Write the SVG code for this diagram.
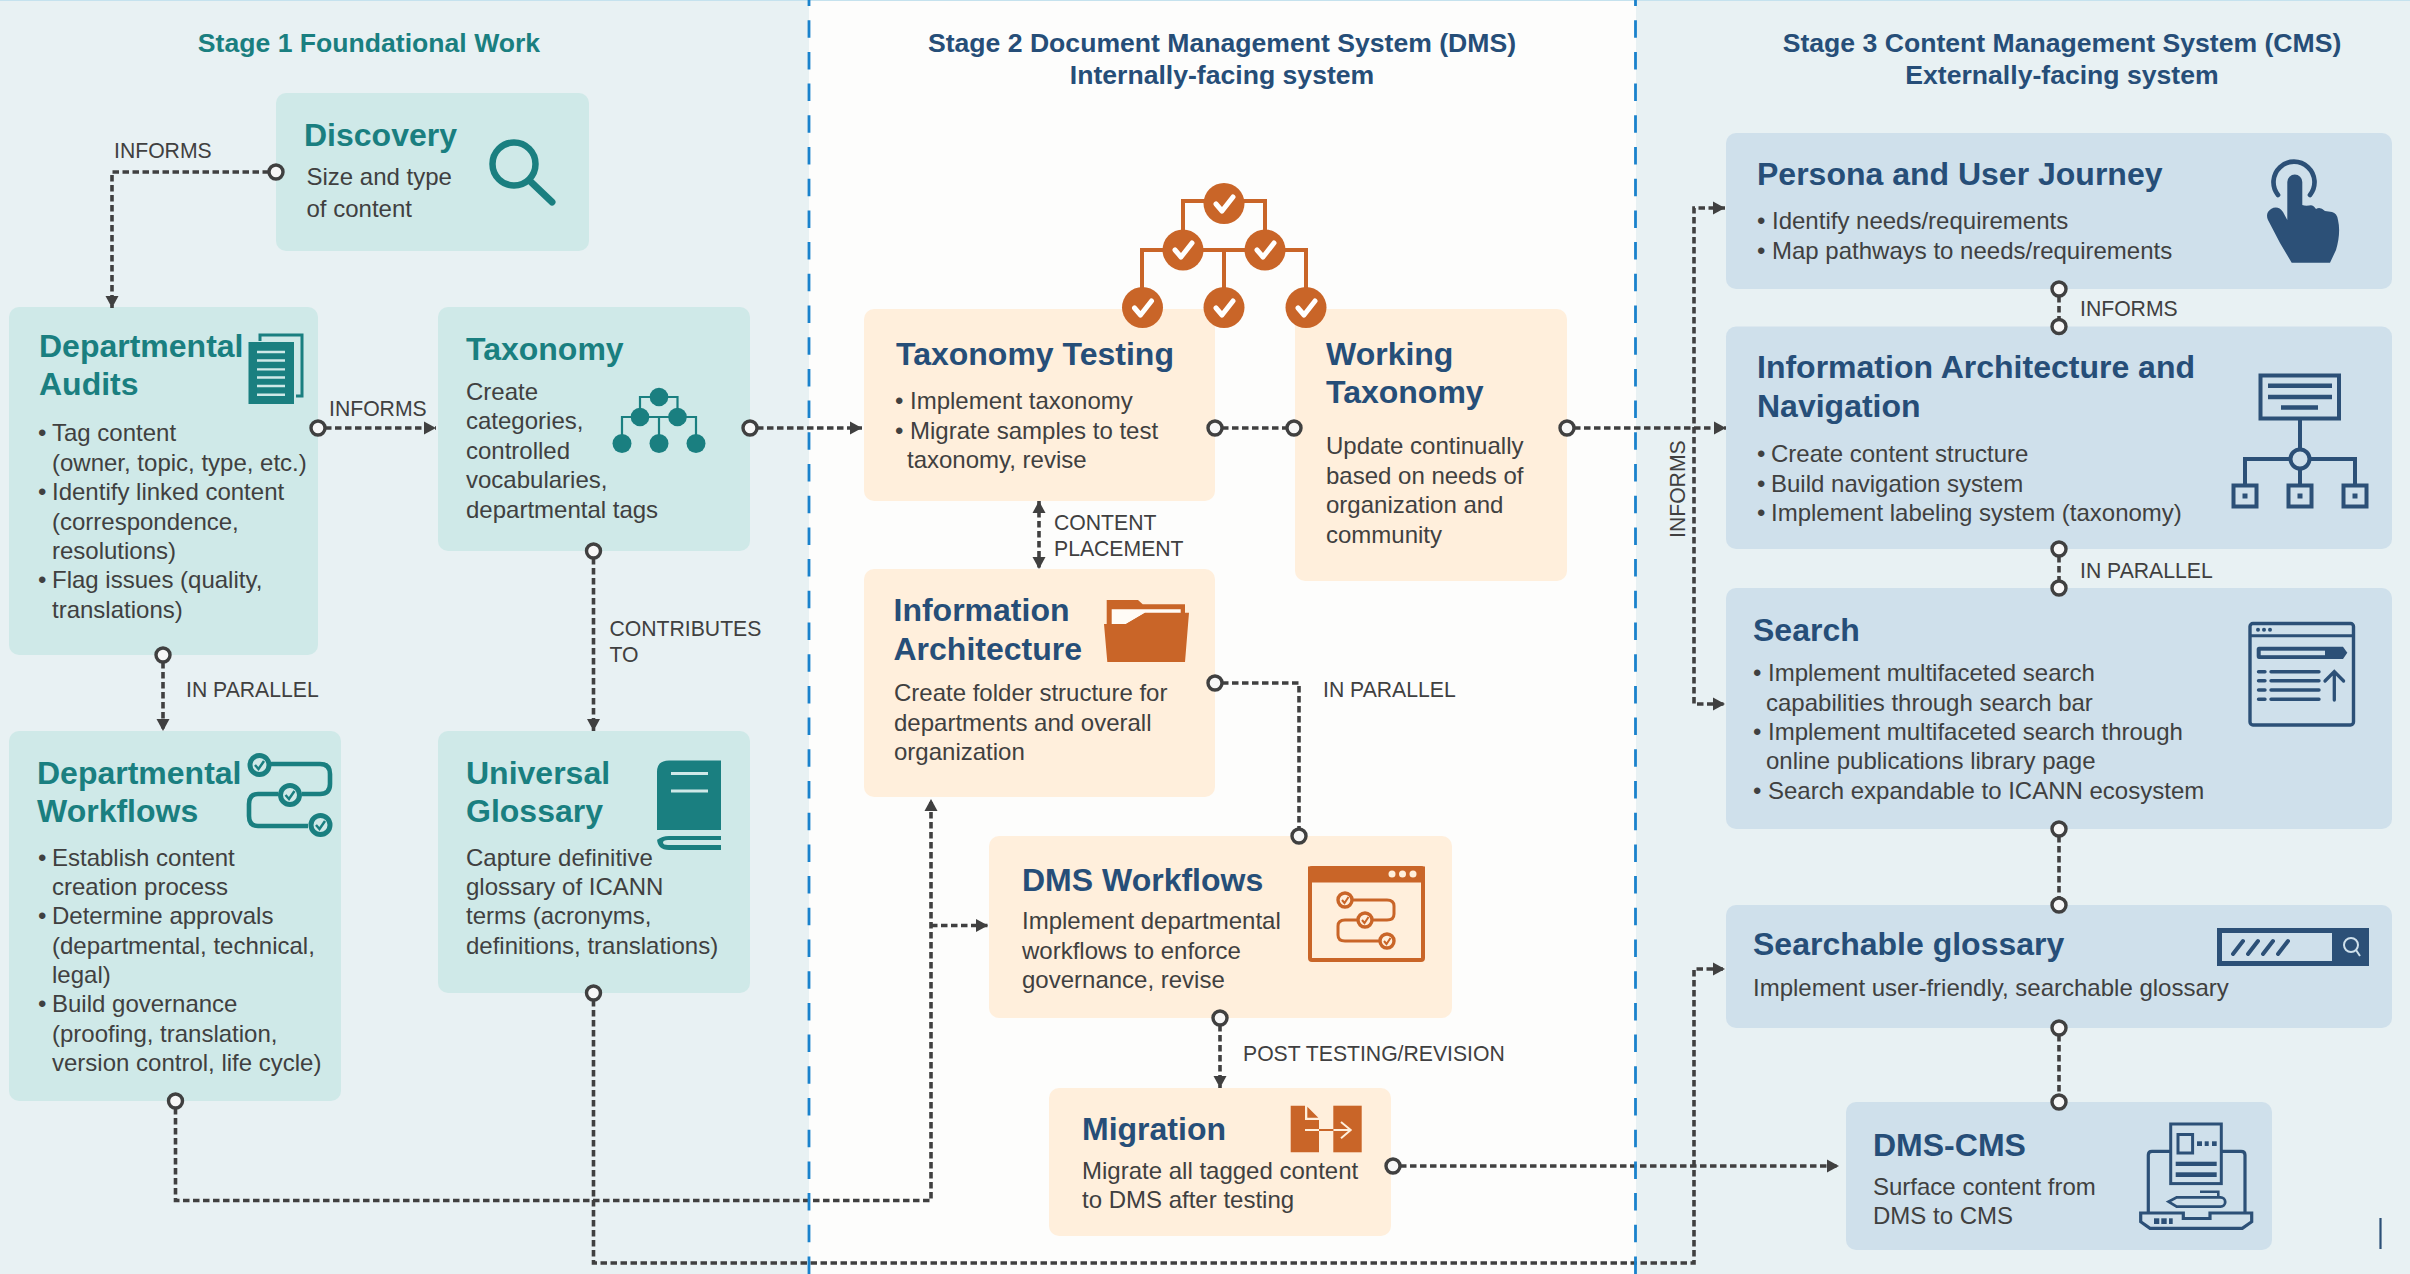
<svg xmlns="http://www.w3.org/2000/svg" width="2410" height="1274" viewBox="0 0 2410 1274">
<style>
text{font-family:"Liberation Sans",Arial,sans-serif}
.b{font-size:24px;fill:#404040}
.l{font-size:21.2px;fill:#404040}
.s{font-size:26.6px;font-weight:bold;text-anchor:middle}
.h{font-size:32px;font-weight:bold}
.ht{fill:#1a7f80}.hb{fill:#264e78}
.tb{fill:#cfe9e8}.ob{fill:#ffefdc}.bb{fill:#cfe0eb}
.c{fill:none;stroke:#404040;stroke-width:3.6;stroke-dasharray:6.500 3.500}
.p{fill:#f7f7f7;stroke:#404040;stroke-width:3.4}
.sep{stroke:#1a82cc;stroke-width:2.800;stroke-dasharray:17.500 14.200;stroke-dashoffset:11.500}
.tf{fill:#1a7f80}.ts{fill:none;stroke:#1a7f80}
.of{fill:#c96528}.os{fill:none;stroke:#c96528}
.nf{fill:#2c5077}.ns{fill:none;stroke:#2c5077}
.ck{fill:none;stroke:#fff;stroke-width:5;stroke-linecap:round;stroke-linejoin:round}
</style>
<defs>
<marker id="a" markerUnits="userSpaceOnUse" markerWidth="14" markerHeight="14" refX="13" refY="7" orient="auto-start-reverse"><path d="M1,0.500L13,7L1,13.500Z" fill="#404040"/></marker>
</defs>
<g id="background">
<rect width="2410" height="1274" fill="#e8f1f3"/>
<rect x="809" width="827" height="1274" fill="#fdfdfc"/>
<rect width="2410" height="1" fill="#c5e2ee"/>
</g>
<g id="stage-titles">
<text class="s ht" x="369" y="52">Stage 1 Foundational Work</text>
<text class="s hb" x="1222" y="52">Stage 2 Document Management System (DMS)</text>
<text class="s hb" x="1222" y="84">Internally-facing system</text>
<text class="s hb" x="2062" y="52">Stage 3 Content Management System (CMS)</text>
<text class="s hb" x="2062" y="84">Externally-facing system</text>
</g>

<g id="discovery"><rect class="tb" x="276" y="93" width="313" height="158" rx="10"/>
<text class="h ht" x="304" y="146">Discovery</text>
<text class="b" x="306.500" y="185">Size and type</text><text class="b" x="306.500" y="217">of content</text>
<circle class="ts" cx="514" cy="164" r="21.500" stroke-width="6.500"/><path class="ts" d="M531,182L552,202" stroke-width="7" stroke-linecap="round"/></g>

<g id="departmental-audits"><rect class="tb" x="9" y="307" width="309" height="348" rx="10"/>
<text class="h ht" x="39" y="357">Departmental</text><text class="h ht" x="39" y="395">Audits</text>
<path class="ts" stroke-width="3" d="M260,341V335H302V396H296"/><rect class="tf" x="248.500" y="342" width="45.500" height="62"/>
<path stroke="#cfe9e8" stroke-width="2.400" d="M257,352H285M257,360.500H285M257,369.400H285M257,377.500H285M257,386H285M257,394.700H285"/>
<text class="b" y="441"><tspan x="38">•</tspan><tspan x="52">Tag content</tspan></text>
<text class="b" x="52" y="470.500">(owner, topic, type, etc.)</text>
<text class="b" y="500"><tspan x="38">•</tspan><tspan x="52">Identify linked content</tspan></text>
<text class="b" x="52" y="529.500">(correspondence,</text>
<text class="b" x="52" y="559">resolutions)</text>
<text class="b" y="588"><tspan x="38">•</tspan><tspan x="52">Flag issues (quality,</tspan></text>
<text class="b" x="52" y="617.500">translations)</text></g>

<g id="taxonomy"><rect class="tb" x="438" y="307" width="312" height="244" rx="10"/>
<text class="h ht" x="466" y="360">Taxonomy</text>
<text class="b" x="466" y="400">Create</text><text class="b" x="466" y="429">categories,</text><text class="b" x="466" y="459">controlled</text><text class="b" x="466" y="488">vocabularies,</text><text class="b" x="466" y="517.500">departmental tags</text>
<path class="ts" stroke-width="2.200" d="M640,417V397H677.500V417M622,443V417H696V443M659,417V443"/>
<circle class="tf" cx="659" cy="397" r="9.300"/><circle class="tf" cx="640" cy="417" r="9.300"/><circle class="tf" cx="677.500" cy="417" r="9.300"/><circle class="tf" cx="622" cy="443.500" r="9.500"/><circle class="tf" cx="659" cy="443.500" r="9.500"/><circle class="tf" cx="696" cy="443.500" r="9.500"/></g>

<g id="departmental-workflows"><rect class="tb" x="9" y="731" width="332" height="370" rx="10"/>
<text class="h ht" x="37" y="784">Departmental</text><text class="h ht" x="37" y="821.500">Workflows</text>
<path class="ts" stroke-width="4.600" d="M270,764H320Q330,764 330,774V784Q330,794 320,794H302M278,794H258Q249,794 249,804V816Q249,826 258,826H308"/>
<g fill="#cfe9e8" stroke="#1a7f80" stroke-width="5"><circle cx="259.500" cy="765" r="9.500"/><circle cx="290" cy="795" r="9.500"/><circle cx="320.500" cy="825" r="9.500"/></g>
<path class="ts" stroke-width="2.500" d="M255,765L258.500,769L264,761M285.500,795L289,799L294.500,791M316,825L319.500,829L325,821"/>
<text class="b" y="865.500"><tspan x="38">•</tspan><tspan x="52">Establish content</tspan></text>
<text class="b" x="52" y="895">creation process</text>
<text class="b" y="924"><tspan x="38">•</tspan><tspan x="52">Determine approvals</tspan></text>
<text class="b" x="52" y="953.500">(departmental, technical,</text>
<text class="b" x="52" y="983">legal)</text>
<text class="b" y="1012"><tspan x="38">•</tspan><tspan x="52">Build governance</tspan></text>
<text class="b" x="52" y="1041.500">(proofing, translation,</text>
<text class="b" x="52" y="1071">version control, life cycle)</text></g>

<g id="universal-glossary"><rect class="tb" x="438" y="731" width="312" height="262" rx="10"/>
<text class="h ht" x="466" y="784">Universal</text><text class="h ht" x="466" y="821.500">Glossary</text>
<path class="tf" d="M721,760.500H669Q657,760.500 657,772V838Q657,850 669,850H721V845H668Q663,845 663,842.500Q663,840 668,840H721V836H669Q662,836 657,840V830H721Z"/>
<path d="M671,773.500H708M671,791H708" stroke="#cfe9e8" stroke-width="3"/>
<text class="b" x="466" y="865.500">Capture definitive</text><text class="b" x="466" y="895">glossary of ICANN</text><text class="b" x="466" y="924">terms (acronyms,</text><text class="b" x="466" y="953.500">definitions, translations)</text></g>

<g id="taxonomy-testing"><rect class="ob" x="864" y="309" width="351" height="192" rx="10"/>
<text class="h hb" x="896" y="365">Taxonomy Testing</text>
<text class="b" y="409"><tspan x="895">•</tspan><tspan x="910">Implement taxonomy</tspan></text>
<text class="b" y="439"><tspan x="895">•</tspan><tspan x="910">Migrate samples to test</tspan></text>
<text class="b" x="907" y="468">taxonomy, revise</text></g>

<g id="working-taxonomy"><rect class="ob" x="1295" y="309" width="272" height="272" rx="10"/>
<text class="h hb" x="1326" y="365">Working</text><text class="h hb" x="1326" y="403">Taxonomy</text>
<text class="b" x="1326" y="454">Update continually</text><text class="b" x="1326" y="484">based on needs of</text><text class="b" x="1326" y="513">organization and</text><text class="b" x="1326" y="543">community</text></g>

<g id="taxonomy-tree-icon">
<path class="os" stroke-width="4" d="M1183,250V201H1265V250M1142,307V250H1306V307M1224,250V307"/>
<g class="of"><circle cx="1224" cy="203.500" r="20.500"/><circle cx="1183" cy="250" r="20.500"/><circle cx="1265" cy="250" r="20.500"/><circle cx="1142.500" cy="307.500" r="20.500"/><circle cx="1224" cy="307.500" r="20.500"/><circle cx="1306" cy="307.500" r="20.500"/></g>
<path class="ck" d="M1216,204L1222,211L1233,197M1175,250L1181,257L1192,243M1257,250L1263,257L1274,243M1134.500,308L1140.500,315L1151.500,301M1216,308L1222,315L1233,301M1298,308L1304,315L1315,301"/></g>

<g id="information-architecture"><rect class="ob" x="864" y="569" width="351" height="228" rx="10"/>
<text class="h hb" x="893.500" y="621">Information</text><text class="h hb" x="893.500" y="660">Architecture</text>
<path class="of" d="M1106.700,600H1138L1142.700,604.300H1185V630H1106.700Z"/>
<path fill="#fffbf6" d="M1111.700,609.300H1180.700V613H1145L1126,624H1111.700Z"/>
<path class="of" d="M1104,624H1126L1145,612.700H1189L1185,662H1107.300Z"/>
<text class="b" x="894" y="701">Create folder structure for</text><text class="b" x="894" y="730.500">departments and overall</text><text class="b" x="894" y="760">organization</text></g>

<g id="dms-workflows"><rect class="ob" x="989" y="836" width="463" height="182" rx="10"/>
<text class="h hb" x="1022" y="891">DMS Workflows</text>
<text class="b" x="1022" y="929">Implement departmental</text><text class="b" x="1022" y="959">workflows to enforce</text><text class="b" x="1022" y="988">governance, revise</text>
<rect class="os" x="1310" y="868" width="113" height="92" rx="2" stroke-width="4"/><rect class="of" x="1308" y="866.500" width="117" height="16"/>
<g fill="#ffefdc"><circle cx="1392" cy="874" r="3.500"/><circle cx="1402.500" cy="874" r="3.500"/><circle cx="1413" cy="874" r="3.500"/></g>
<path class="os" stroke-width="3" d="M1353,900H1387Q1394,900 1394,906V914Q1394,920 1387,920H1373M1357,920H1345Q1338,920 1338,926V935Q1338,941 1345,941H1379"/>
<g fill="#ffefdc" stroke="#c96528" stroke-width="3.400"><circle cx="1345" cy="900" r="7"/><circle cx="1365" cy="920" r="7"/><circle cx="1387" cy="941" r="7"/></g>
<path class="os" stroke-width="2" d="M1342,900L1344.500,903L1348.500,897M1362,920L1364.500,923L1368.500,917M1384,941L1386.500,944L1390.500,938"/></g>

<g id="migration"><rect class="ob" x="1049" y="1088" width="342" height="148" rx="10"/>
<text class="h hb" x="1082" y="1140">Migration</text>
<text class="b" x="1082" y="1179">Migrate all tagged content</text><text class="b" x="1082" y="1208">to DMS after testing</text>
<path class="of" d="M1290.700,1105.700H1305V1120H1319V1152.300H1290.700Z"/><path class="of" d="M1307.300,1106.700L1318.300,1117.700H1307.300Z"/><rect class="of" x="1333.300" y="1105.700" width="28.400" height="46.600"/>
<path fill="none" stroke="#ffefdc" stroke-width="2" d="M1305,1130H1319M1333.300,1130H1350.700M1341,1122L1350.700,1130L1341,1138.300"/>
<path fill="none" stroke="#c96528" stroke-width="2" d="M1319,1130H1333.300"/></g>

<g id="persona"><rect class="bb" x="1726" y="133" width="666" height="156" rx="10"/>
<text class="h hb" x="1757" y="185">Persona and User Journey</text>
<text class="b" y="229"><tspan x="1757">•</tspan><tspan x="1772">Identify needs/requirements</tspan></text>
<text class="b" y="259"><tspan x="1757">•</tspan><tspan x="1772">Map pathways to needs/requirements</tspan></text>
<path class="ns" stroke-width="4.700" stroke-linecap="round" d="M2278,195A20.500,20.500 0 1 1 2310,195"/>
<path class="nf" d="M2287.300,182A7.500,7.500 0 0 1 2302.300,182V205Q2305,206 2309,205.500Q2313,204 2316,209Q2320,206 2325,211L2332,212Q2337,213 2338,220Q2341,233 2336,250L2330,262.700H2291.700L2280,243L2268,220Q2265,213 2271,209Q2278,205 2283,212L2287.300,220Z"/></g>

<g id="ia-navigation"><rect class="bb" x="1726" y="326.500" width="666" height="222.500" rx="10"/>
<text class="h hb" x="1757" y="378">Information Architecture and</text><text class="h hb" x="1757" y="417">Navigation</text>
<text class="b" y="462"><tspan x="1757">•</tspan><tspan x="1771">Create content structure</tspan></text>
<text class="b" y="492"><tspan x="1757">•</tspan><tspan x="1771">Build navigation system</tspan></text>
<text class="b" y="521"><tspan x="1757">•</tspan><tspan x="1771">Implement labeling system (taxonomy)</tspan></text>
<rect class="ns" x="2260.500" y="375.500" width="78.500" height="43" stroke-width="4"/>
<path class="ns" stroke-width="4.500" d="M2268,385.700H2332M2268,397H2332M2281,407.500H2318"/>
<path class="ns" stroke-width="4" d="M2300,420V449M2300,469V484M2290,459H2245V484M2310,459H2355V484"/>
<circle class="ns" cx="2300" cy="459" r="9.500" stroke-width="4"/>
<g class="ns" stroke-width="4"><rect x="2233.500" y="485.500" width="23" height="21"/><rect x="2288.500" y="485.500" width="23" height="21"/><rect x="2343.500" y="485.500" width="23" height="21"/></g>
<g class="nf"><rect x="2242.500" y="493.500" width="5" height="5"/><rect x="2297.500" y="493.500" width="5" height="5"/><rect x="2352.500" y="493.500" width="5" height="5"/></g></g>

<g id="search"><rect class="bb" x="1726" y="588" width="666" height="241" rx="10"/>
<text class="h hb" x="1753" y="641">Search</text>
<text class="b" y="681"><tspan x="1753">•</tspan><tspan x="1768">Implement multifaceted search</tspan></text>
<text class="b" x="1766" y="711">capabilities through search bar</text>
<text class="b" y="740"><tspan x="1753">•</tspan><tspan x="1768">Implement multifaceted search through</tspan></text>
<text class="b" x="1766" y="769">online publications library page</text>
<text class="b" y="799"><tspan x="1753">•</tspan><tspan x="1768">Search expandable to ICANN ecosystem</tspan></text>
<rect class="ns" x="2250" y="623.500" width="103.500" height="101.500" rx="3" stroke-width="3.400"/>
<path class="ns" stroke-width="3" d="M2250,635.700H2354"/>
<g class="nf"><circle cx="2258" cy="629.700" r="2"/><circle cx="2264" cy="629.700" r="2"/><circle cx="2270" cy="629.700" r="2"/></g>
<path class="nf" d="M2259,646.700H2343L2347.300,652.800L2343,659H2259Q2256.700,659 2256.700,656V649.500Q2256.700,646.700 2259,646.700Z"/><rect x="2260.700" y="650.700" width="64.300" height="4.500" fill="#cfe0eb"/>
<path class="ns" stroke-width="3.400" stroke-linecap="round" d="M2258.500,671.700H2265M2271,671.700H2319M2258.500,680.700H2265M2271,680.700H2319M2258.500,690H2265M2271,690H2319M2258.500,699.300H2265M2271,699.300H2319"/>
<path class="ns" stroke-width="3.300" stroke-linecap="round" d="M2334.300,700V672M2325,681L2334.300,671.500L2343.600,681"/></g>

<g id="searchable-glossary"><rect class="bb" x="1726" y="905" width="666" height="123" rx="10"/>
<text class="h hb" x="1753" y="955">Searchable glossary</text>
<text class="b" x="1753" y="996">Implement user-friendly, searchable glossary</text>
<rect class="ns" x="2219.500" y="930.500" width="115" height="33" stroke-width="5"/><rect class="nf" x="2334.500" y="928" width="34.500" height="38"/>
<circle cx="2351" cy="945" r="7" fill="none" stroke="#cfe0eb" stroke-width="2"/><path d="M2356,950L2360,956" stroke="#cfe0eb" stroke-width="2"/>
<path class="ns" stroke-width="4" stroke-linecap="round" d="M2233,954L2243,941M2248,954L2258,941M2263,954L2273,941M2278,954L2288,941"/></g>

<g id="dms-cms"><rect class="bb" x="1846" y="1102" width="426" height="148" rx="10"/>
<text class="h hb" x="1873" y="1156">DMS-CMS</text>
<text class="b" x="1873" y="1195">Surface content from</text><text class="b" x="1873" y="1223.500">DMS to CMS</text>
<path class="ns" stroke-width="3.200" d="M2170,1151.300H2152Q2148.300,1151.300 2148.300,1155V1212M2222,1151.300H2241Q2245,1151.300 2245,1155V1212M2140.700,1213H2183.300V1218.500H2210V1213H2251.700V1221.700L2242.300,1228.300H2150L2140.700,1221.700Z"/>
<rect class="ns" x="2170.700" y="1124" width="50.600" height="59.600" stroke-width="3"/>
<rect class="ns" x="2178" y="1134.500" width="14.600" height="18.500" stroke-width="3"/>
<g class="nf"><rect x="2197" y="1141.300" width="5" height="4.700"/><rect x="2204.700" y="1141.300" width="4" height="4.700"/><rect x="2212" y="1141.300" width="4.700" height="4.700"/>
<rect x="2175.700" y="1161.700" width="41" height="4.300"/><rect x="2175.700" y="1172.300" width="41" height="4.700"/>
<rect x="2154" y="1218.300" width="5.300" height="5.700"/><rect x="2161.300" y="1218.300" width="5.400" height="5.700"/><rect x="2169" y="1218.300" width="3.700" height="5.700"/></g>
<path class="ns" stroke-width="2.800" d="M2168.500,1201.700L2176.700,1197.300H2220.500A4.700,4.700 0 0 1 2220.500,1206.700H2176.700Z"/><path class="ns" stroke-width="2.600" d="M2200,1191.700H2218.300V1197"/></g>

<g id="connectors">
<path class="c" d="M269,172H112V308" marker-end="url(#a)"/>
<path class="c" d="M325,428H436" marker-end="url(#a)"/>
<path class="c" d="M757,428H862" marker-end="url(#a)"/>
<path class="c" d="M593.500,558V731" marker-end="url(#a)"/>
<path class="c" d="M163,662V731" marker-end="url(#a)"/>
<path class="c" d="M1222,428H1287"/>
<path class="c" d="M1574,428H1726" marker-end="url(#a)"/>
<path class="c" d="M1039,501V569" marker-start="url(#a)" marker-end="url(#a)"/>
<path class="c" d="M1222,683H1299V829"/>
<path class="c" d="M1220,1025V1088" marker-end="url(#a)"/>
<path class="c" d="M1400,1166H1839" marker-end="url(#a)"/>
<path class="c" d="M175.500,1108V1200.500H931V799" marker-end="url(#a)"/>
<path class="c" d="M931,925.500H988" marker-end="url(#a)"/>
<path class="c" d="M593.500,1000V1263H1694V969H1725" marker-end="url(#a)"/>
<path class="c" d="M1725,208H1694V704H1725" marker-start="url(#a)" marker-end="url(#a)"/>
<path class="c" d="M2059,296V320"/>
<path class="c" d="M2059,556V581"/>
<path class="c" d="M2059,836V898"/>
<path class="c" d="M2059,1035V1095"/>
<g id="ports">
<circle class="p" cx="276" cy="172" r="7"/><circle class="p" cx="318" cy="428" r="7"/><circle class="p" cx="750" cy="428" r="7"/><circle class="p" cx="593.500" cy="551" r="7"/><circle class="p" cx="163" cy="655" r="7"/><circle class="p" cx="1215" cy="428" r="7"/><circle class="p" cx="1294" cy="428" r="7"/><circle class="p" cx="1567" cy="428" r="7"/><circle class="p" cx="1215" cy="683" r="7"/><circle class="p" cx="1299" cy="836" r="7"/><circle class="p" cx="1220" cy="1018" r="7"/><circle class="p" cx="1393" cy="1166" r="7"/><circle class="p" cx="175.500" cy="1101" r="7"/><circle class="p" cx="593.500" cy="993" r="7"/><circle class="p" cx="2059" cy="289" r="7"/><circle class="p" cx="2059" cy="326.500" r="7"/><circle class="p" cx="2059" cy="549" r="7"/><circle class="p" cx="2059" cy="588" r="7"/><circle class="p" cx="2059" cy="829" r="7"/><circle class="p" cx="2059" cy="905" r="7"/><circle class="p" cx="2059" cy="1028" r="7"/><circle class="p" cx="2059" cy="1102" r="7"/>
</g></g>
<g id="separators"><path class="sep" d="M809,0V1274M1635.500,0V1274"/></g>
<g id="labels">
<text class="l" x="114" y="158">INFORMS</text><text class="l" x="329" y="416">INFORMS</text>
<text class="l" x="609.500" y="635.500">CONTRIBUTES</text><text class="l" x="609.500" y="662">TO</text>
<text class="l" x="186" y="697">IN PARALLEL</text>
<text class="l" x="1054" y="530">CONTENT</text><text class="l" x="1054" y="556">PLACEMENT</text>
<text class="l" x="1323" y="697">IN PARALLEL</text>
<text class="l" x="1243" y="1061">POST TESTING/REVISION</text>
<text class="l" x="2080" y="316">INFORMS</text><text class="l" x="2080" y="577.500">IN PARALLEL</text>
<text class="l" transform="translate(1685 538) rotate(-90)">INFORMS</text>
</g>
<path id="mark" d="M2380.500,1218V1249" stroke="#2c5077" stroke-width="2.200"/>
</svg>
